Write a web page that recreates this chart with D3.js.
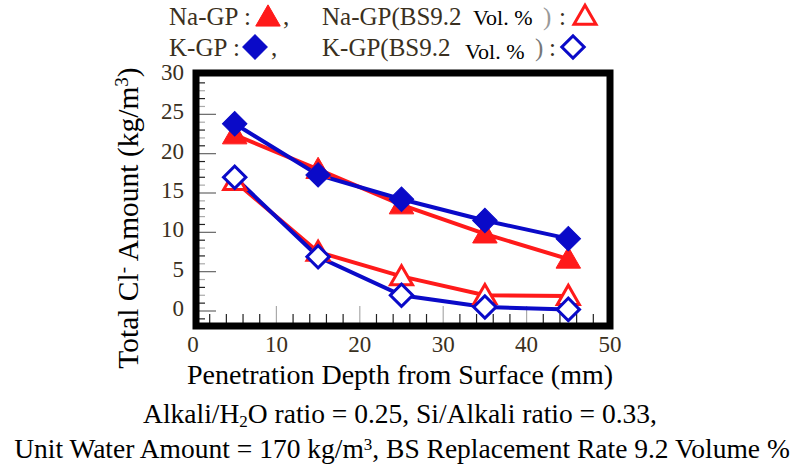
<!DOCTYPE html>
<html>
<head>
<meta charset="utf-8">
<script src="https://cdn.jsdelivr.net/npm/d3@7"></script>
<style>
  body { margin: 0; background: #fff; }
  text { font-family: "Liberation Serif", "Times New Roman", serif; }
</style>
</head>
<body>
<svg id="chart" width="798" height="466"></svg>
<script>
// depth (mm) and total Cl- amount (kg/m3)
const depth = [5, 15, 25, 35, 45]
const naGP = [22.4, 18.0, 13.5, 9.8, 6.6]
const kGP = [23.8, 17.3, 14.2, 11.5, 9.2]
const naGPBS = [16.5, 7.5, 4.4, 2.0, 1.9]
const kGPBS = [17.0, 6.9, 2.0, 0.5, 0.2]

const xTicks = [0, 10, 20, 30, 40, 50]
const yTicks = [0, 5, 10, 15, 20, 25, 30]

const red = "#ff1a1a"
const blue = "#0a0ac8"
const labelColor = "#3a3020"

const svg = d3.select("#chart")

const x = d3.scaleLinear().domain([0, 50]).range([193, 610])
const y = d3.scaleLinear().domain([0, 30]).range([311, 75])

// frame
const frame = {x0: 196, y0: 73, x1: 610, y1: 326}

// minor/major ticks drawn inside the frame
const tickG = svg.append("g")
d3.range(2, 50, 2).forEach(v => {
  const major = v % 10 === 0
  tickG.append("line")
    .attr("x1", x(v)).attr("x2", x(v))
    .attr("y1", frame.y1).attr("y2", frame.y1 - (major ? 20 : 12))
    .attr("stroke", major ? "#aaa" : "#222")
    .attr("stroke-width", 1.2)
})
d3.range(-1, 30, 1).forEach(v => {
  const major = v % 5 === 0
  tickG.append("line")
    .attr("x1", frame.x0).attr("x2", frame.x0 + (major ? 20 : 9))
    .attr("y1", y(v)).attr("y2", y(v))
    .attr("stroke", major ? "#666" : (v % 2 ? "#222" : "#aaa"))
    .attr("stroke-width", 1.2)
})

svg.append("rect")
  .attr("x", frame.x0).attr("y", frame.y0)
  .attr("width", frame.x1 - frame.x0).attr("height", frame.y1 - frame.y0)
  .attr("fill", "none")
  .attr("stroke", "#000")
  .attr("stroke-width", 7)

// tick labels
svg.append("g").selectAll("text")
  .data(xTicks)
  .enter().append("text")
    .attr("x", d => x(d))
    .attr("y", 352)
    .attr("text-anchor", "middle")
    .attr("font-size", 23)
    .attr("fill", labelColor)
    .text(d => d)

svg.append("g").selectAll("text")
  .data(yTicks)
  .enter().append("text")
    .attr("x", 184)
    .attr("y", d => y(d) + 5)
    .attr("text-anchor", "end")
    .attr("font-size", 23)
    .attr("fill", labelColor)
    .text(d => d)

// axis titles
svg.append("text")
  .attr("x", 400).attr("y", 384)
  .attr("text-anchor", "middle")
  .attr("font-size", 28)
  .text("Penetration Depth from Surface (mm)")

const yt = svg.append("text")
  .attr("transform", "translate(138,218) rotate(-90)")
  .attr("text-anchor", "middle")
  .attr("font-size", 29.5)
yt.append("tspan").text("Total Cl")
yt.append("tspan").attr("dy", -9).attr("font-size", 19).text("-")
yt.append("tspan").attr("dy", 9).text(" Amount (kg/m")
yt.append("tspan").attr("dy", -10).attr("font-size", 19).text("3")
yt.append("tspan").attr("dy", 10).text(")")

// series
const series = [
  {values: naGPBS, color: red, shape: "tri", filled: false},
  {values: naGP, color: red, shape: "tri", filled: true},
  {values: kGPBS, color: blue, shape: "dia", filled: false},
  {values: kGP, color: blue, shape: "dia", filled: true}
]

const line = d3.line()
  .x((d, i) => x(depth[i]))
  .y(d => y(d))

series.forEach(s => {
  svg.append("path")
    .attr("d", line(s.values))
    .attr("fill", "none")
    .attr("stroke", s.color)
    .attr("stroke-width", 4)
})

// diamond = rotated square, triangle sits a bit low like the original
function marker(sel, s) {
  const sym = s.shape === "dia"
    ? d3.symbol().type(d3.symbolSquare).size(s.filled ? 300 : 250)
    : d3.symbol().type(d3.symbolTriangle).size(s.filled ? 260 : 210)
  sel.attr("d", sym)
    .attr("fill", s.filled ? s.color : "#fff")
    .attr("stroke", s.color)
    .attr("stroke-width", s.filled ? 1 : 3)
}

function place(s, px, py) {
  return s.shape === "dia"
    ? `translate(${px},${py}) rotate(45)`
    : `translate(${px},${py + 2})`
}

series.forEach(s => {
  svg.append("g").selectAll("path")
    .data(s.values)
    .enter().append("path")
      .attr("transform", (d, i) => place(s, x(depth[i]), y(d)))
      .call(sel => marker(sel, s))
})

// legend
const leg = svg.append("g").attr("font-size", 25).attr("fill", labelColor)
const legText = [
  {t: "Na-GP", x: 169, y: 25},
  {t: ":", x: 244, y: 25},
  {t: ",", x: 283, y: 25},
  {t: "Na-GP(BS9.2", x: 322, y: 25},
  {t: "Vol. %", x: 473, y: 25, size: 22, fill: "#000"},
  {t: ")", x: 543, y: 25, fill: "#999"},
  {t: ":", x: 559, y: 25},
  {t: "K-GP", x: 169, y: 56},
  {t: ":", x: 233, y: 56},
  {t: ",", x: 271, y: 56},
  {t: "K-GP(BS9.2", x: 322, y: 56},
  {t: "Vol. %", x: 465, y: 59, size: 22, fill: "#000"},
  {t: ")", x: 535, y: 56, fill: "#777"},
  {t: ":", x: 549, y: 56}
]
leg.selectAll("text")
  .data(legText)
  .enter().append("text")
    .attr("x", d => d.x)
    .attr("y", d => d.y)
    .attr("font-size", d => d.size || null)
    .attr("fill", d => d.fill || null)
    .text(d => d.t)

const legMarks = [
  {s: series[1], x: 268, y: 17},
  {s: series[0], x: 585, y: 16},
  {s: series[3], x: 255, y: 47},
  {s: series[2], x: 573, y: 47}
]
legMarks.forEach(m => {
  svg.append("path")
    .attr("transform", place(m.s, m.x, m.y))
    .call(sel => marker(sel, m.s))
})

// caption
const cap = svg.append("g").attr("font-size", 27.5).attr("text-anchor", "middle").attr("fill", "#000")
const c1 = cap.append("text").attr("x", 400).attr("y", 423)
c1.append("tspan").text("Alkali/H")
c1.append("tspan").attr("dy", 4).attr("font-size", 17).text("2")
c1.append("tspan").attr("dy", -4).text("O ratio = 0.25, Si/Alkali ratio = 0.33,")
const c2 = cap.append("text").attr("x", 402).attr("y", 458)
c2.append("tspan").text("Unit Water Amount = 170 kg/m")
c2.append("tspan").attr("dy", -8).attr("font-size", 17).text("3")
c2.append("tspan").attr("dy", 8).text(", BS Replacement Rate 9.2 Volume %")
</script>
</body>
</html>
